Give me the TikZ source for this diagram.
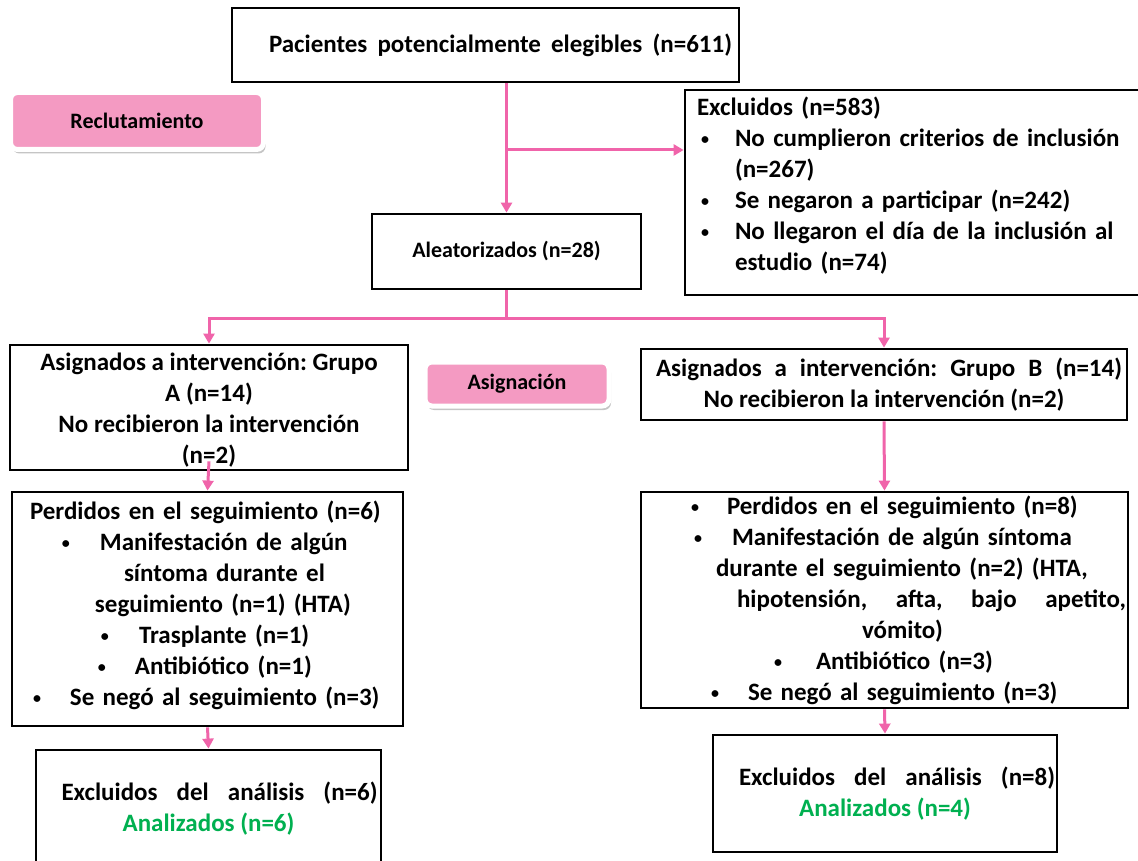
\documentclass[tikz,border=0pt]{standalone}
\usepackage{fontspec}
\setmainfont{Carlito}
\usetikzlibrary{arrows.meta,shadows,calc}
\definecolor{rosa}{RGB}{240,100,170}
\definecolor{rosafondo}{RGB}{244,154,194}
\definecolor{verde}{RGB}{0,176,80}
% bullet line: bullet offset, text offset, text
\newcommand{\blt}[3]{\hspace*{#1pt}\makebox[\dimexpr#2pt-#1pt\relax][l]{\raisebox{2pt}{\fontsize{16}{16}\selectfont\textbullet}}#3}
\newcommand{\ind}[2]{\hspace*{#1pt}#2}
\tikzset{
  caja/.style={draw=black, line width=2.8pt, inner sep=0pt, align=center,
    font=\bfseries\fontsize{25}{31}\selectfont\frenchspacing},
  lista/.style={caja, align=left},
  etiqueta/.style={fill=rosafondo, draw=white, line width=5pt, rounded corners=7pt,
    drop shadow={opacity=0.45, shadow xshift=2pt, shadow yshift=-4pt},
    font=\bfseries\fontsize{22}{26}\selectfont},
  flecha/.style={draw=rosa, line width=3pt, -{Triangle[length=10pt,width=11pt]}}
}
\begin{document}
\begin{tikzpicture}[x=1pt,y=-1pt]
  \clip (0,0) rectangle (1138,861);
  \fill[white] (0,0) rectangle (1138,861);

  %labels
  \node[etiqueta, minimum width=253pt, minimum height=57pt] (reclut) at (137,121) {Reclutamiento};
  \node[etiqueta, minimum width=184pt, minimum height=44pt] (asign) at (517,384) {Asignación};

  %boxes
  \node[caja, minimum width=507pt, minimum height=74pt] (pac) at (485.5,45)
    {\hspace*{30pt}\makebox[463pt][s]{Pacientes potencialmente elegibles (n=611)}};
  \node[lista, text width=460pt, minimum height=205pt] (excl) at (915,192.5)
    {\ind{12}{Excluidos (n=583)}\\
     \blt{16}{50}{No cumplieron criterios de inclusión}\\
     \ind{50}{(n=267)}\\
     \blt{16}{50}{Se negaron a participar (n=242)}\\
     \blt{16}{50}{No llegaron el día de la inclusión al}\\
     \ind{50}{estudio (n=74)}\\[-14pt]\mbox{}};
  \node[caja, minimum width=269pt, minimum height=75pt,
        font=\bfseries\fontsize{22}{26}\selectfont] (alea) at (506.5,251.5)
    {Aleatorizados (n=28)};
  \node[caja, minimum width=398pt, minimum height=125pt] (grpA) at (209,407.5)
    {\rule{0pt}{22pt}Asignados a intervención: Grupo\\ A (n=14)\\ No recibieron la intervención\\ (n=2)};
  \node[caja, minimum width=486pt, minimum height=71pt] (grpB) at (884,384.5)
    {\hspace*{10pt}\makebox[466pt][l]{Asignados\hfill a\hfill intervención:\hfill Grupo\hfill B\hfill (n=14)}\\
     No recibieron la intervención (n=2)};
  \node[lista, text width=391pt, minimum height=234pt] (perdA) at (207.5,609)
    {\ind{18}{Perdidos en el seguimiento (n=6)}\\
     \blt{50}{88}{Manifestación de algún}\\
     \ind{112}{síntoma durante el}\\
     \ind{83}{seguimiento (n=1) (HTA)}\\
     \blt{89}{127}{Trasplante (n=1)}\\
     \blt{86}{123}{Antibiótico (n=1)}\\
     \blt{21}{58}{Se negó al seguimiento (n=3)}\\[-20pt]\mbox{}};
  \node[lista, text width=487pt, minimum height=216pt] (perdB) at (884.5,600)
    {\blt{50}{86}{Perdidos en el seguimiento (n=8)}\\
     \blt{53}{91}{Manifestación de algún síntoma}\\
     \ind{75}{durante el seguimiento (n=2) (HTA,}\\
     \ind{96}{\makebox[389pt][l]{hipotensión,\hfill afta,\hfill bajo\hfill apetito,}}\\
     \ind{221}{vómito)}\\
     \blt{133}{175}{Antibiótico (n=3)}\\
     \blt{70}{107}{Se negó al seguimiento (n=3)}};
  \node[caja, minimum width=345pt, minimum height=118pt] (anaA) at (208.5,809)
    {\hspace*{22pt}\makebox[316pt][l]{Excluidos\hfill del\hfill análisis\hfill (n=6)}\\ \textcolor{verde}{Analizados (n=6)}};
  \node[caja, minimum width=344pt, minimum height=117pt] (anaB) at (885,793.5)
    {\hspace*{24pt}\makebox[316pt][l]{Excluidos\hfill del\hfill análisis\hfill (n=8)}\\ \textcolor{verde}{Analizados (n=4)}};

  %connectors
  \coordinate (ramaExcl) at (alea.north |- 0,150);
  \coordinate (ramaGrp) at (alea.south |- 0,318);
  \draw[flecha] (alea.north |- pac.south) -- (alea.north);
  \draw[flecha] (ramaExcl) -- (ramaExcl -| excl.west);
  \draw[flecha] (alea.south) -- (ramaGrp) -| (grpA.north);
  \draw[flecha] (ramaGrp) -| (grpB.north);
  \draw[flecha] ($(grpA.south)+(0,-10)$) -- (perdA.north);
  \draw[flecha] (grpB.south) -- (perdB.north);
  \draw[flecha] (perdA.south) -- (anaA.north);
  \draw[flecha] (perdB.south) -- (anaB.north);
\end{tikzpicture}
\end{document}
